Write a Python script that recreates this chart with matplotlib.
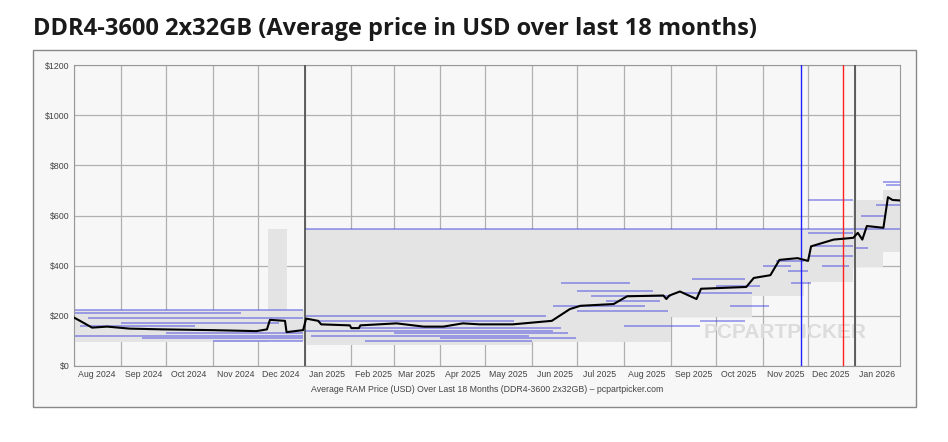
import matplotlib.pyplot as plt
import matplotlib.dates as mdates
import numpy as np
import pandas as pd
from matplotlib.patches import Rectangle

# average price (black line)
avg_dates = ["2024-08-01", "2024-08-05", "2024-08-13", "2024-08-23", "2024-09-07", "2024-09-29",
             "2024-11-01", "2024-11-30", "2024-12-07", "2024-12-09", "2024-12-19", "2024-12-20",
             "2024-12-31", "2025-01-02", "2025-01-10", "2025-01-12", "2025-01-31", "2025-02-01",
             "2025-02-06", "2025-02-07", "2025-03-03", "2025-03-21", "2025-04-03", "2025-04-16",
             "2025-04-27", "2025-05-19", "2025-06-14", "2025-06-26", "2025-07-03", "2025-07-25",
             "2025-08-03", "2025-08-27", "2025-08-29", "2025-08-31", "2025-09-07", "2025-09-18",
             "2025-09-21", "2025-10-21", "2025-10-26", "2025-11-06", "2025-11-12", "2025-11-24",
             "2025-12-01", "2025-12-03", "2025-12-18", "2025-12-31", "2026-01-03", "2026-01-06",
             "2026-01-09", "2026-01-20", "2026-01-23", "2026-01-26", "2026-01-31"]
avg_price = [193, 180, 153, 157, 149, 146,
             143, 139, 146, 184, 180, 135,
             143, 189, 180, 166, 162, 151,
             151, 162, 170, 157, 157, 170,
             166, 166, 180, 227, 240, 247,
             278, 281, 267, 281, 297, 267,
             308, 315, 351, 362, 423, 430,
             419, 477, 504, 511, 531, 504,
             558, 551, 673, 662, 660]

# min / max price range (gray band)
band_dates = ["2024-08-01", "2024-12-08", "2024-12-20", "2025-01-01", "2025-06-01", "2025-09-01",
              "2025-10-25", "2025-11-28", "2025-12-31", "2026-01-20", "2026-01-31"]
band_low = [95, 100, 100, 85, 95, 195, 280, 335, 395, 455, 540]
band_high = [225, 545, 225, 545, 545, 545, 545, 545, 660, 700, 735]

# individual retailer prices (blue segments): start, end, price
seg_start = ["2024-08-01", "2024-08-01", "2024-08-10", "2024-09-01", "2024-08-05", "2024-10-01",
             "2024-08-01", "2024-09-15", "2024-11-01", "2025-01-01", "2025-01-10", "2025-02-01",
             "2025-01-01", "2025-03-01", "2025-01-05", "2025-04-01", "2025-02-10", "2025-06-20",
             "2025-07-01", "2025-07-10", "2025-07-20", "2025-06-15", "2025-08-01", "2025-07-01",
             "2025-09-15", "2025-10-01", "2025-09-10", "2025-10-10", "2025-09-20", "2025-11-01",
             "2025-11-10", "2025-11-18", "2025-11-20", "2025-12-01", "2025-12-01", "2025-12-05",
             "2025-12-01", "2025-12-10", "2026-01-20", "2026-01-22", "2026-01-15", "2026-01-05",
             "2026-01-01", "2025-01-01"]
seg_end = ["2024-12-31", "2024-11-20", "2024-12-31", "2024-12-15", "2024-10-20", "2024-12-31",
           "2024-12-31", "2024-12-31", "2024-12-31", "2025-06-10", "2025-05-20", "2025-06-20",
           "2025-06-15", "2025-06-25", "2025-05-30", "2025-06-30", "2025-06-01", "2025-08-05",
           "2025-08-20", "2025-09-01", "2025-08-25", "2025-08-15", "2025-09-20", "2025-08-30",
           "2025-10-20", "2025-10-30", "2025-10-25", "2025-11-05", "2025-10-20", "2025-11-20",
           "2025-11-28", "2025-12-01", "2025-12-03", "2025-12-31", "2025-12-31", "2025-12-31",
           "2025-12-31", "2025-12-28", "2026-01-31", "2026-01-31", "2026-01-31", "2026-01-22",
           "2026-01-10", "2026-01-31"]
seg_price = [225, 210, 190, 170, 160, 130, 120, 110, 100, 200, 180, 150,
             140, 130, 120, 110, 100, 330, 300, 280, 260, 240, 160, 220,
             345, 320, 290, 240, 180, 400, 420, 380, 330, 660, 530, 480,
             440, 400, 735, 720, 640, 600, 470, 545]

notes_dates = ["2025-01-01", "2026-01-01"]

plt.rcParams['font.family'] = ['Liberation Sans', 'DejaVu Sans']
plt.figure(figsize=(9.48, 4.42), dpi=100)
fig = plt.gcf()
fig.patch.set_facecolor("white")
fig.patches.append(Rectangle((33 / 948, 1 - 407 / 442), 883 / 948, 357 / 442, transform=fig.transFigure,
                             facecolor="#f7f7f7", edgecolor="#888888", lw=1, zorder=-1))
fig.text(33 / 948, 1 - 29 / 442, "DDR4-3600 2x32GB (Average price in USD over last 18 months)",
         fontsize=17, fontweight="bold", color="#1a1a1a", va="center", family=["Open Sans", "DejaVu Sans"])

ax = fig.add_axes([74 / 948, 1 - 366 / 442, 826 / 948, 301 / 442])
ax.set_facecolor("#f7f7f7")

bd = pd.to_datetime(band_dates)
ax.fill_between(bd, band_low, band_high, step="post", color="#e4e4e4", lw=0, zorder=1)

for s, e, p in zip(seg_start, seg_end, seg_price):
    ax.hlines(p, pd.to_datetime(s), pd.to_datetime(e), color="#3535e0", alpha=0.55, lw=1.1, zorder=2)

ax.plot(pd.to_datetime(avg_dates), avg_price, color="black", lw=1.5, zorder=4)

for d in notes_dates:
    ax.axvline(pd.to_datetime(d), color="#555555", lw=1.3, zorder=3)
ax.axvline(pd.to_datetime("2025-11-26"), color="#2020ff", lw=1, zorder=3)
ax.axvline(pd.to_datetime("2025-12-24"), color="#ff2020", lw=1, zorder=3)

ax.text(0.96, 0.11, "PCPARTPICKER", transform=ax.transAxes, fontsize=15, color="#dcdcdc",
        ha="right", va="center", fontweight="bold", zorder=2)

ax.set_xlim(pd.Timestamp("2024-08-01"), pd.Timestamp("2026-01-31"))
ax.set_ylim(0, 1200)
ax.set_yticks(np.arange(0, 1201, 200))
ax.set_yticklabels([f"${v}" for v in range(0, 1201, 200)])
ax.xaxis.set_major_locator(mdates.MonthLocator())
ax.xaxis.set_major_formatter(plt.NullFormatter())
ax.xaxis.set_minor_locator(mdates.MonthLocator(bymonthday=16))
ax.xaxis.set_minor_formatter(mdates.DateFormatter("%b %Y"))
ax.tick_params(axis="both", which="both", length=0, labelsize=6.3, colors="#444444", pad=3)
ax.grid(True, which="major", color="#b0b0b0", lw=0.9, zorder=0)
ax.set_axisbelow(True)
for sp in ax.spines.values():
    sp.set_color("#999999")
ax.set_xlabel("Average RAM Price (USD) Over Last 18 Months (DDR4-3600 2x32GB) – pcpartpicker.com",
              fontsize=6.3, color="#444444", labelpad=4)

plt.savefig("out.png", dpi=100)
